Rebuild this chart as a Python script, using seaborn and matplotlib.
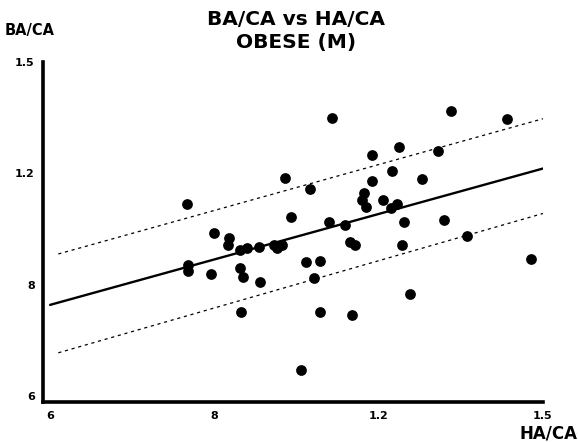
import matplotlib
matplotlib.use("Agg")
import matplotlib.pyplot as plt
import seaborn as sns
import pandas as pd

# HA/CA (x) and BA/CA (y) for each subject
ha_ca = [0.850, 0.899, 0.927, 0.924, 0.851, 0.852, 0.894, 0.947, 0.953, 0.983,
         0.949, 0.947, 0.959, 0.982, 1.008, 1.014, 1.023, 1.029, 1.039,
         1.114, 1.332, 1.435, 1.187, 1.237, 1.308, 1.074, 1.187, 1.225, 1.279,
         1.173, 1.169, 1.176, 1.207, 1.222, 1.234, 1.110, 1.139, 1.247, 1.320,
         1.148, 1.157, 1.243, 1.361, 1.067, 1.092, 1.081, 1.478, 1.258, 1.093,
         1.151, 1.059]
ba_ca = [1.118, 1.040, 1.026, 1.006, 0.952, 0.937, 0.928, 0.944, 0.920, 0.908,
         0.826, 0.995, 0.999, 1.001, 1.008, 0.999, 1.006, 1.188, 1.082,
         1.349, 1.368, 1.346, 1.249, 1.271, 1.261, 1.158, 1.180, 1.205, 1.185,
         1.147, 1.129, 1.110, 1.127, 1.107, 1.118, 1.069, 1.061, 1.069, 1.075,
         1.015, 1.008, 1.008, 1.031, 0.961, 0.963, 0.919, 0.970, 0.874, 0.826,
         0.819, 0.672]

# regression line and its band (end points)
fit_x = [0.6, 1.5]
fit_y = [0.846, 1.213]
band_x = [0.615, 1.5]
band_hi = [0.983, 1.347]
band_lo = [0.717, 1.092]

ticks = [0.6, 0.9, 1.2, 1.5]
xtick_labels = ["6", "8", "1.2", "1.5"]
ytick_labels = ["6", "8", "1.2", "1.5"]

df = pd.DataFrame({"HA/CA": ha_ca, "BA/CA": ba_ca})

sns.set_style("white")
plt.rcParams["text.color"] = "black"
fig = plt.figure(figsize=(5.78, 4.42), dpi=100)
ax = fig.add_axes([0.0744, 0.090, 0.8650, 0.7700])

sns.scatterplot(data=df, x="HA/CA", y="BA/CA", ax=ax, color="black",
                s=60, edgecolor="black", linewidth=0, zorder=3)
sns.lineplot(x=fit_x, y=fit_y, ax=ax, color="black", linewidth=1.7)
sns.lineplot(x=band_x, y=band_hi, ax=ax, color="black", linewidth=0.9,
             linestyle=(0, (2.5, 3)))
sns.lineplot(x=band_x, y=band_lo, ax=ax, color="black", linewidth=0.9,
             linestyle=(0, (2.5, 3)))

ax.set_xlim(0.587, 1.5)
ax.set_ylim(0.584, 1.5)
ax.set_xticks(ticks)
ax.set_xticklabels(xtick_labels, fontsize=8, fontweight="bold")
ax.set_yticks(ticks)
ax.set_yticklabels(ytick_labels, fontsize=8, fontweight="bold")
ax.tick_params(axis="both", direction="out", length=4, width=1.5, pad=2,
               colors="black")
ax.set_xlabel("")
ax.set_ylabel("")

sns.despine(ax=ax)
for side in ["left", "bottom"]:
    ax.spines[side].set_linewidth(2.6)
    ax.spines[side].set_color("black")

title_font = dict(fontsize=14.5, fontweight="bold", family="DejaVu Sans",
                  color="black", ha="center", va="top")
fig.text(0.512, 0.978, "BA/CA vs HA/CA", **title_font)
fig.text(0.512, 0.925, "OBESE (M)", **title_font)
fig.text(0.008, 0.932, "BA/CA", ha="left", va="center", color="black",
         fontsize=10.5, fontweight="bold")
fig.text(0.999, 0.0, "HA/CA", ha="right", va="bottom", color="black",
         fontsize=12, fontweight="bold")

fig.savefig("out.png", dpi=100)
